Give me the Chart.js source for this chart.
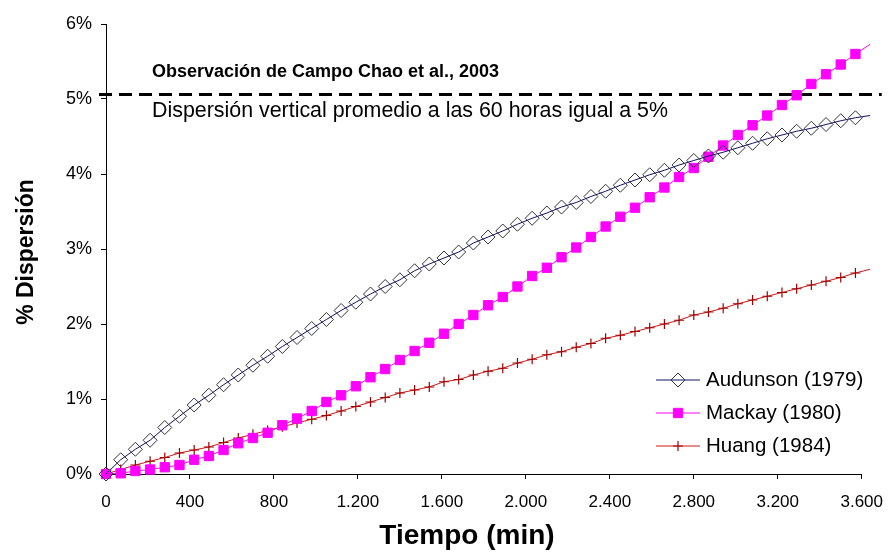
<!DOCTYPE html>
<html><head><meta charset="utf-8">
<script src="https://cdn.jsdelivr.net/npm/chart.js@4.4.1/dist/chart.umd.min.js"></script>
<style>html,body{margin:0;padding:0;background:#fff}#c{display:block}</style>
</head><body>
<canvas id="c" width="896" height="554"></canvas>
<script>
// ---- data ----
const timeMin = [0,70,140,210,280,350,420,490,560,630,700,770,840,910,980,1050,1120,1190,1260,1330,1400,1470,1540,1610,1680,1750,1820,1890,1960,2030,2100,2170,2240,2310,2380,2450,2520,2590,2660,2730,2800,2870,2940,3010,3080,3150,3220,3290,3360,3430,3500,3570,3640];
const audunson = [0,0.19,0.33,0.45,0.62,0.77,0.92,1.05,1.19,1.32,1.45,1.57,1.70,1.82,1.94,2.06,2.18,2.29,2.40,2.50,2.59,2.71,2.80,2.88,2.96,3.08,3.16,3.24,3.33,3.41,3.48,3.56,3.62,3.70,3.77,3.85,3.92,3.99,4.05,4.12,4.18,4.24,4.29,4.35,4.41,4.47,4.52,4.57,4.61,4.66,4.71,4.75,4.78];
const mackay = [0,0.01,0.04,0.06,0.09,0.12,0.19,0.24,0.32,0.41,0.48,0.55,0.65,0.74,0.84,0.96,1.05,1.17,1.29,1.40,1.52,1.64,1.75,1.87,2.00,2.12,2.25,2.36,2.50,2.64,2.75,2.89,3.02,3.16,3.30,3.43,3.55,3.69,3.82,3.96,4.08,4.23,4.38,4.52,4.65,4.78,4.92,5.05,5.20,5.33,5.46,5.60,5.73];
const huang = [0,0.06,0.12,0.17,0.22,0.28,0.32,0.36,0.42,0.48,0.53,0.58,0.63,0.68,0.73,0.78,0.84,0.90,0.96,1.02,1.08,1.12,1.16,1.23,1.26,1.32,1.37,1.41,1.48,1.53,1.59,1.63,1.69,1.74,1.81,1.85,1.90,1.95,2.00,2.05,2.12,2.16,2.21,2.27,2.32,2.37,2.42,2.47,2.52,2.57,2.62,2.68,2.73];
const seriesNames = ['Audunson (1979)', 'Mackay (1980)', 'Huang (1984)'];
const xTickLabels = ['0','400','800','1.200','1.600','2.000','2.400','2.800','3.200','3.600'];
const yTickLabels = ['0%','1%','2%','3%','4%','5%','6%'];
const obsLevel = 5.06;
const obsTitle = 'Observación de Campo Chao et al., 2003';
const obsNote = 'Dispersión vertical promedio a las 60 horas igual a 5%';
const xTitle = 'Tiempo (min)';
const yTitle = '% Dispersión';

// ---- chart ----
const FONT = "'Liberation Sans', Arial, sans-serif";
const lastIdx = timeMin.length - 1;
function pts(arr){ return timeMin.map((t,i)=>({x:t, y:arr[i]})); }
const styles = [
  {line:'#101060', point:'#303048', fill:'rgba(0,0,0,0)', ps:'rectRot', r:7, bw:1},
  {line:'#ff00ff', point:'#ff00ff', fill:'#ff00ff', ps:'rect', r:6.6, bw:1},
  {line:'#d01818', point:'#a00000', fill:'rgba(0,0,0,0)', ps:'cross', r:5, bw:1.2}
];
const seriesData = [audunson, mackay, huang];
const datasets = seriesData.map((arr,i)=>({
  label: seriesNames[i],
  data: pts(arr),
  borderColor: styles[i].line,
  borderWidth: 1,
  backgroundColor: styles[i].fill,
  pointStyle: styles[i].ps,
  pointRadius: c => c.dataIndex === lastIdx ? 0 : styles[i].r,
  pointBorderColor: styles[i].point,
  pointBackgroundColor: styles[i].fill,
  pointBorderWidth: styles[i].bw,
  tension: 0,
  clip: false
}));

function drawMarker(ctx, st, x, y){
  ctx.save();
  ctx.strokeStyle = st.point; ctx.fillStyle = st.fill; ctx.lineWidth = st.bw;
  ctx.beginPath();
  const r = st.r;
  if (st.ps === 'rectRot'){ ctx.moveTo(x, y-r); ctx.lineTo(x+r, y); ctx.lineTo(x, y+r); ctx.lineTo(x-r, y); ctx.closePath(); ctx.fill(); ctx.stroke(); }
  else if (st.ps === 'rect'){ const s = r*Math.SQRT1_2; ctx.rect(x-s, y-s, 2*s, 2*s); ctx.fill(); ctx.stroke(); }
  else { ctx.moveTo(x-r, y); ctx.lineTo(x+r, y); ctx.moveTo(x, y-r); ctx.lineTo(x, y+r); ctx.stroke(); }
  ctx.restore();
}

const overlay = {
  id: 'overlay',
  beforeDatasetsDraw(chart){
    const ctx = chart.ctx, ys = chart.scales.y, a = chart.chartArea;
    const y = ys.getPixelForValue(obsLevel);
    ctx.save();
    ctx.strokeStyle = '#000'; ctx.lineWidth = 3; ctx.setLineDash([13,7]);
    ctx.beginPath(); ctx.moveTo(a.left - 7, y); ctx.lineTo(a.right + 20, y); ctx.stroke();
    ctx.restore();
  },
  afterDraw(chart){
    const ctx = chart.ctx, ys = chart.scales.y, a = chart.chartArea;
    const y = ys.getPixelForValue(obsLevel);
    ctx.save();
    ctx.fillStyle = '#000';
    ctx.textBaseline = 'middle'; ctx.textAlign = 'left';
    ctx.font = 'bold 18px ' + FONT;
    ctx.fillText(obsTitle, 152, y - 22);
    ctx.font = '21.4px ' + FONT;
    ctx.fillText(obsNote, 152, y + 17);
    // axis titles
    ctx.textAlign = 'center';
    ctx.font = 'bold 28px ' + FONT;
    ctx.fillText(xTitle, 467, 536);
    ctx.save();
    ctx.translate(27, (a.top + a.bottom)/2 + 3);
    ctx.rotate(-Math.PI/2);
    ctx.font = 'bold 23px ' + FONT;
    ctx.fillText(yTitle, 0, 0);
    ctx.restore();
    // legend
    ctx.font = '20.5px ' + FONT;
    ctx.textAlign = 'left';
    chart.data.datasets.forEach((ds, i) => {
      const ly = 380 + i*33;
      ctx.strokeStyle = ds.borderColor; ctx.lineWidth = 1;
      ctx.beginPath(); ctx.moveTo(656, ly); ctx.lineTo(700, ly); ctx.stroke();
      drawMarker(ctx, styles[i], 678, ly);
      ctx.fillStyle = '#000';
      ctx.fillText(ds.label, 706, ly);
    });
    ctx.restore();
  }
};

new Chart(document.getElementById('c'), {
  type: 'line',
  data: { datasets },
  options: {
    responsive: false, animation: false, devicePixelRatio: 1,
    layout: { padding: { top: 24, right: 26, left: 0, bottom: 0 } },
    plugins: { legend: { display: false }, tooltip: { enabled: false } },
    scales: {
      x: {
        type: 'linear', min: 0, max: 3600,
        ticks: { stepSize: 400, color: '#000', font: {family: FONT, size: 17}, padding: 13, maxRotation: 0, autoSkip: false,
                 callback: v => xTickLabels[Math.round(v/400)] },
        grid: { display: true, drawOnChartArea: false, drawTicks: true, tickLength: 5, color: '#000', lineWidth: 1 },
        border: { display: true, color: '#000', width: 1 },
        afterFit(s){ s.height = 80; }
      },
      y: {
        type: 'linear', min: 0, max: 6,
        ticks: { stepSize: 1, color: '#000', font: {family: FONT, size: 18}, padding: 9,
                 callback: v => yTickLabels[Math.round(v)] },
        grid: { display: true, drawOnChartArea: false, drawTicks: true, tickLength: 5, color: '#000', lineWidth: 1 },
        border: { display: true, color: '#000', width: 1 },
        afterFit(s){ s.width = 106; }
      }
    }
  },
  plugins: [overlay]
});
</script>
</body></html>
